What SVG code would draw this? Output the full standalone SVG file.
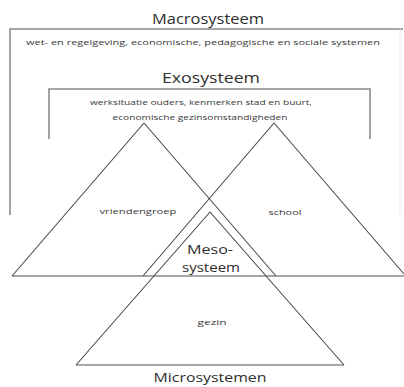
<svg xmlns="http://www.w3.org/2000/svg" width="404" height="387" viewBox="0 0 404 387">
<style>
.box{fill:none;stroke:#8a8a8a;stroke-width:1.6}
.tri{fill:none;stroke:#4a4a4a;stroke-width:1.1}
.base{stroke:#8a8a8a;stroke-width:1.6}
.title{font-family:"Open Sans","Liberation Sans",sans-serif;fill:#2e2e2e;text-anchor:middle}
.small{font-family:"Open Sans","Liberation Sans",sans-serif;fill:#3a3a3a;text-anchor:middle}
</style>
<rect width="404" height="387" fill="#ffffff"/>
<g id="macro">
<path class="box" d="M10,215 V29 H403"/>
<path d="M400,29 V215" stroke="#e4e4e4" stroke-width="1" fill="none"/>
<text class="title" x="208" y="24" font-size="14" textLength="112" lengthAdjust="spacingAndGlyphs">Macrosysteem</text>
<text class="small" x="203" y="45" font-size="7.5" textLength="354" lengthAdjust="spacingAndGlyphs">wet- en regelgeving, economische, pedagogische en sociale systemen</text>
</g>
<g id="exo">
<path class="box" d="M49,139 V89 H370 V139"/>
<text class="title" x="211" y="83" font-size="14" textLength="98" lengthAdjust="spacingAndGlyphs">Exosysteem</text>
<text class="small" x="201" y="105" font-size="7.5" textLength="222" lengthAdjust="spacingAndGlyphs">werksituatie ouders, kenmerken stad en buurt,</text>
<text class="small" x="200" y="120" font-size="7.5" textLength="175" lengthAdjust="spacingAndGlyphs">economische gezinsomstandigheden</text>
</g>
<g id="connectors">
<line class="base" x1="12" y1="276" x2="404" y2="276"/>
<line class="base" x1="76" y1="365" x2="344" y2="365"/>
</g>
<g id="vriendengroep">
<path class="tri" d="M12,276 L144,123 L276,276"/>
<text class="small" x="138" y="214" font-size="8" textLength="77" lengthAdjust="spacingAndGlyphs">vriendengroep</text>
</g>
<g id="school">
<path class="tri" d="M143,276 L274,123 L404,274"/>
<text class="small" x="285" y="215" font-size="8" textLength="33" lengthAdjust="spacingAndGlyphs">school</text>
</g>
<g id="meso">
<text class="title" x="210" y="254" font-size="13.5" textLength="46" lengthAdjust="spacingAndGlyphs">Meso-</text>
<text class="title" x="211" y="272" font-size="13.5" textLength="58" lengthAdjust="spacingAndGlyphs">systeem</text>
</g>
<g id="gezin">
<path class="tri" d="M76,365 L210,212 L344,365"/>
<text class="small" x="212" y="325" font-size="8" textLength="29" lengthAdjust="spacingAndGlyphs">gezin</text>
</g>
<g id="micro">
<text class="title" x="210" y="382" font-size="13" textLength="113" lengthAdjust="spacingAndGlyphs">Microsystemen</text>
</g>
</svg>
